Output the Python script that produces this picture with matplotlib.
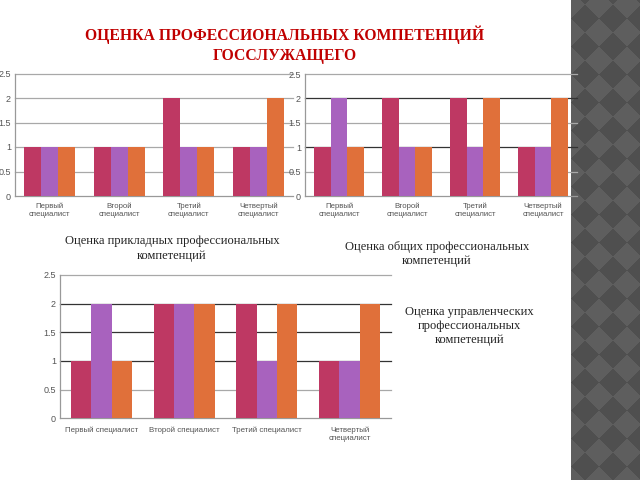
import numpy as np
import matplotlib
matplotlib.use("Agg")
import matplotlib.pyplot as plt

# ---------------- data ----------------
title = "ОЦЕНКА ПРОФЕССИОНАЛЬНЫХ КОМПЕТЕНЦИЙ\nГОССЛУЖАЩЕГО"
cats_two_line = ["Первый\nспециалист", "Второй\nспециалист", "Третий\nспециалист", "Четвертый\nспециалист"]
cats_bottom = ["Первый специалист", "Второй специалист", "Третий специалист", "Четвертый\nспециалист"]
yticks = [0, 0.5, 1, 1.5, 2, 2.5]
ytick_labels = ["0", "0.5", "1", "1.5", "2", "2.5"]

# top-left chart
tl_s1 = [1, 1, 2, 1]
tl_s2 = [1, 1, 1, 1]
tl_s3 = [1, 1, 1, 2]
# top-right chart
tr_s1 = [1, 2, 2, 1]
tr_s2 = [2, 1, 1, 1]
tr_s3 = [1, 1, 2, 2]
# bottom chart
b_s1 = [1, 2, 2, 1]
b_s2 = [2, 2, 1, 1]
b_s3 = [1, 2, 2, 2]

caption_tl = "Оценка прикладных профессиональных\nкомпетенций"
caption_tr = "Оценка общих профессиональных\nкомпетенций"
caption_b = "Оценка управленческих\nпрофессиональных\nкомпетенций"

colors = ["#BE3863", "#A862BE", "#E0703A"]

W, H = 640, 480
fig = plt.figure(figsize=(6.4, 4.8), dpi=100)
fig.patch.set_facecolor("white")


def px_axes(left, right, top, bottom, **kw):
    return fig.add_axes([left / W, 1 - bottom / H, (right - left) / W, (bottom - top) / H], **kw)


# ---- checkered strip on the right ----
sax = px_axes(571, 640, 0, 480)
yy, xx = np.mgrid[0:480, 0:69]
s = 28.0
pat = (np.floor((xx + yy + 10) / s) + np.floor((xx - yy + 494) / s)) % 2
img = np.where(pat[..., None] > 0, np.array([0.37, 0.37, 0.37]), np.array([0.31, 0.31, 0.31]))
sax.imshow(img, aspect="auto", interpolation="bilinear")
sax.axis("off")


def draw_chart(ax, series, cats, dark_lines, label_fs, ytick_fs, xpad, lsp):
    x = np.arange(len(cats))
    w = 0.245
    for i, (vals, c) in enumerate(zip(series, colors)):
        ax.bar(x + (i - 1) * w, vals, width=w, color=c, zorder=3, linewidth=0)
    ax.set_xlim(-0.5, len(cats) - 0.5)
    ax.set_ylim(0, 2.5)
    ax.set_yticks(yticks)
    ax.set_yticklabels(ytick_labels, fontsize=ytick_fs, color="#555555",
                       family=["Liberation Sans", "DejaVu Sans"])
    for yv in yticks[1:]:
        col = "#333333" if yv in dark_lines else "#A8A8A8"
        ax.axhline(yv, color=col, lw=0.9, zorder=1, clip_on=False)
    ax.set_xticks(x)
    ax.set_xticklabels(cats, fontsize=label_fs, color="#555555",
                       family=["Liberation Sans", "DejaVu Sans"], linespacing=lsp)
    ax.tick_params(axis="y", length=0, pad=3)
    ax.tick_params(axis="x", length=0, pad=xpad)
    for sp in ["top", "right"]:
        ax.spines[sp].set_visible(False)
    for sp in ["left", "bottom"]:
        ax.spines[sp].set_color("#999999")
        ax.spines[sp].set_linewidth(0.9)
    ax.set_facecolor("none")


ax1 = px_axes(15, 293, 73.5, 196)
draw_chart(ax1, [tl_s1, tl_s2, tl_s3], cats_two_line, [], 5.6, 6.5, 5, 1.2)
ax2 = px_axes(305, 577, 74, 196)
draw_chart(ax2, [tr_s1, tr_s2, tr_s3], cats_two_line, [1, 2], 5.6, 6.5, 5, 1.2)
ax3 = px_axes(60, 391, 275, 418.3)
draw_chart(ax3, [b_s1, b_s2, b_s3], cats_bottom, [1, 1.5, 2], 5.7, 6.5, 6, 1.2)

serif = ["Liberation Serif", "DejaVu Serif"]
fig.text(285 / W, 1 - 44.5 / H, title, ha="center", va="center", fontsize=11.3,
         fontweight="bold", color="#C00000", family=serif, linespacing=1.3)
fig.text(172 / W, 1 - 248.5 / H, caption_tl, ha="center", va="center", fontsize=9,
         color="#222222", family=serif, linespacing=1.25)
fig.text(437 / W, 1 - 254 / H, caption_tr, ha="center", va="center", fontsize=9,
         color="#222222", family=serif, linespacing=1.25)
fig.text(469.5 / W, 1 - 326 / H, caption_b, ha="center", va="center", fontsize=9,
         color="#222222", family=serif, linespacing=1.25)

fig.savefig("out.png", dpi=100, facecolor="white")
